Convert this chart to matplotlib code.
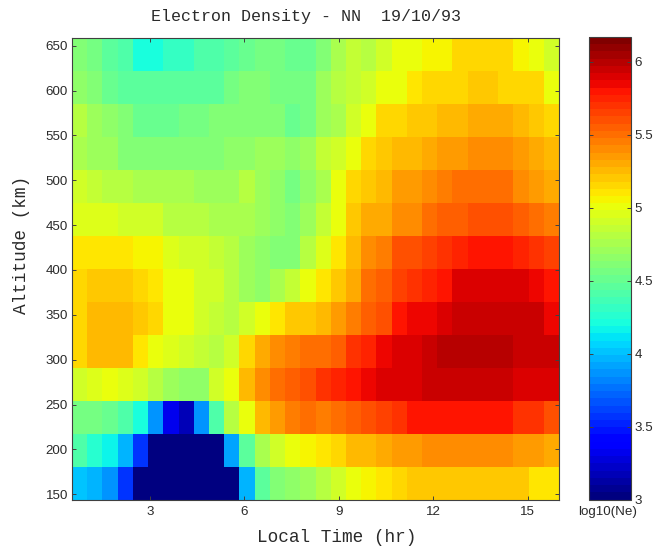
import numpy as np
import matplotlib
matplotlib.use("Agg")
import matplotlib.pyplot as plt

# log10(Ne); rows listed from lowest altitude to highest, 32 local-time columns
row00 = [4.03,3.97,3.85,3.55,3.0,3.0,3.0,3.0,3.0,3.0,3.0,3.97,4.45,4.60,4.67,4.73,4.80,4.90,5.03,5.08,5.12,5.15,5.20,5.20,5.22,5.22,5.22,5.20,5.18,5.18,5.12,5.10]
row01 = [4.43,4.25,4.15,3.97,3.55,3.0,3.0,3.0,3.0,3.0,3.90,4.47,4.77,4.92,5.03,5.05,5.12,5.17,5.23,5.25,5.32,5.35,5.36,5.38,5.38,5.38,5.38,5.38,5.38,5.33,5.33,5.32]
row02 = [4.57,4.57,4.53,4.43,4.22,3.87,3.30,3.15,3.87,4.43,4.80,5.03,5.25,5.33,5.45,5.50,5.47,5.50,5.55,5.58,5.65,5.72,5.82,5.82,5.82,5.82,5.82,5.82,5.82,5.72,5.68,5.62]
row03 = [4.90,4.97,5.00,4.95,4.92,4.83,4.73,4.67,4.67,4.90,5.03,5.27,5.40,5.50,5.55,5.60,5.72,5.76,5.80,5.84,5.89,5.90,5.92,5.96,5.96,5.96,5.96,5.96,5.96,5.92,5.92,5.91]
row04 = [5.15,5.23,5.23,5.23,5.12,5.03,4.95,4.90,4.85,4.80,4.92,5.17,5.28,5.40,5.45,5.50,5.52,5.55,5.70,5.75,5.85,5.89,5.91,5.94,6.02,6.02,6.02,6.02,6.02,5.97,5.97,5.94]
row05 = [5.17,5.27,5.27,5.27,5.22,5.13,5.03,5.03,4.90,4.87,4.80,4.92,5.00,5.10,5.20,5.22,5.27,5.37,5.47,5.55,5.62,5.82,5.84,5.86,5.91,5.96,5.96,5.96,5.96,5.96,5.93,5.84]
row06 = [5.15,5.22,5.22,5.22,5.15,5.12,5.03,5.03,4.92,4.90,4.83,4.70,4.67,4.77,4.87,5.02,5.10,5.20,5.32,5.48,5.57,5.65,5.72,5.75,5.82,5.89,5.89,5.89,5.89,5.89,5.86,5.78]
row07 = [5.12,5.12,5.12,5.12,5.05,5.05,4.95,4.92,4.90,4.87,4.80,4.73,4.67,4.62,4.62,4.80,4.97,5.10,5.25,5.40,5.47,5.58,5.62,5.65,5.72,5.75,5.82,5.82,5.82,5.75,5.72,5.65]
row08 = [4.96,4.97,4.97,4.92,4.90,4.90,4.83,4.81,4.79,4.77,4.77,4.75,4.70,4.65,4.63,4.70,4.87,5.03,5.20,5.28,5.32,5.40,5.42,5.50,5.57,5.57,5.62,5.62,5.62,5.55,5.50,5.45]
row09 = [4.92,4.88,4.83,4.83,4.75,4.75,4.75,4.75,4.70,4.70,4.73,4.80,4.73,4.67,4.57,4.67,4.77,5.03,5.13,5.20,5.25,5.33,5.35,5.38,5.43,5.50,5.50,5.50,5.50,5.42,5.36,5.32]
row10 = [4.77,4.73,4.70,4.63,4.63,4.63,4.63,4.63,4.63,4.63,4.67,4.67,4.70,4.70,4.67,4.73,4.85,4.93,5.03,5.13,5.22,5.25,5.25,5.30,5.35,5.35,5.38,5.38,5.38,5.33,5.30,5.23]
row11 = [4.80,4.70,4.67,4.60,4.50,4.50,4.50,4.57,4.57,4.60,4.62,4.62,4.62,4.62,4.52,4.55,4.70,4.77,4.93,5.00,5.13,5.17,5.20,5.22,5.27,5.27,5.32,5.32,5.32,5.25,5.22,5.15]
row12 = [4.67,4.63,4.50,4.45,4.45,4.45,4.45,4.45,4.47,4.47,4.57,4.63,4.63,4.57,4.55,4.57,4.70,4.80,4.87,4.90,5.00,5.03,5.10,5.13,5.17,5.17,5.22,5.22,5.17,5.17,5.15,5.03]
row13 = [4.60,4.55,4.47,4.42,4.22,4.22,4.30,4.30,4.40,4.42,4.47,4.52,4.57,4.57,4.52,4.53,4.63,4.77,4.85,4.80,4.90,5.00,5.03,5.08,5.08,5.13,5.13,5.13,5.13,5.08,5.03,4.92]
rows = [row00,row01,row02,row03,row04,row05,row06,row07,row08,row09,row10,row11,row12,row13]

x_ticks = [3, 6, 9, 12, 15]
y_ticks = [150, 200, 250, 300, 350, 400, 450, 500, 550, 600, 650]
cb_ticks = [3, 3.5, 4, 4.5, 5, 5.5, 6]
cb_labels = ['3', '3.5', '4', '4.5', '5', '5.5', '6']

W, H = 665, 546
def box(l, t, r, b):
    return [l/W, 1-b/H, (r-l)/W, (b-t)/H]

fig = plt.figure(figsize=(W/100, H/100), dpi=100, facecolor='white')
ax = fig.add_axes(box(72, 37.5, 559, 499.5))
z = np.array(rows)
x_edges = np.linspace(0.52, 16.0, z.shape[1]+1)
y_edges = np.linspace(144.2, 659.1, z.shape[0]+1)
cmap = matplotlib.colormaps['jet'].resampled(64)
mesh = ax.pcolormesh(x_edges, y_edges, z, cmap=cmap, vmin=3, vmax=6.17, linewidth=0, rasterized=True)
ax.set_xlim(0.52, 16.0)
ax.set_ylim(144.2, 659.1)
edge = '#404040'
text_c = '#2a2a2a'
tick_font = ['Liberation Sans', 'DejaVu Sans']
mono = ['Liberation Mono', 'DejaVu Sans Mono']
ax.set_xticks(x_ticks)
ax.set_yticks(y_ticks)
ax.tick_params(direction='in', top=True, right=True, length=3.2, width=0.7, color=edge,
               labelsize=9.6, labelcolor=text_c)
ax.tick_params(axis='x', pad=5)
ax.tick_params(axis='y', pad=3)
for t in ax.get_xticklabels() + ax.get_yticklabels():
    t.set_fontfamily(tick_font)
for s in ax.spines.values():
    s.set_color(edge); s.set_linewidth(0.8)
fig.text(306/W, 1-16/H, 'Electron Density - NN  19/10/93', family=mono, fontsize=12,
         ha='center', va='center', color=text_c)
fig.text(337/W, 1-537/H, 'Local Time (hr)', family=mono, fontsize=12.8,
         ha='center', va='center', color=text_c)
fig.text(22/W, 1-245/H, 'Altitude (km)', family=mono, fontsize=12.8, rotation=90,
         ha='center', va='center', color=text_c)

cax = fig.add_axes(box(588.5, 37, 630.5, 499.5))
cb = fig.colorbar(mesh, cax=cax, orientation='vertical', drawedges=False)
cb.set_ticks(cb_ticks)
cb.set_ticklabels(cb_labels)
cax.tick_params(axis='y', direction='in', left=True, right=True, length=3, width=0.7,
                color=edge, labelsize=9.6, labelcolor=text_c, pad=3)
cb.minorticks_off()
for t in cax.get_yticklabels():
    t.set_fontfamily(tick_font)
cb.outline.set_edgecolor(edge)
cb.outline.set_linewidth(0.8)
fig.text(608/W, 1-512/H, 'log10(Ne)', family=tick_font, fontsize=9.6, ha='center', va='center', color=text_c)

fig.savefig('out.png', dpi=100, facecolor='white')
